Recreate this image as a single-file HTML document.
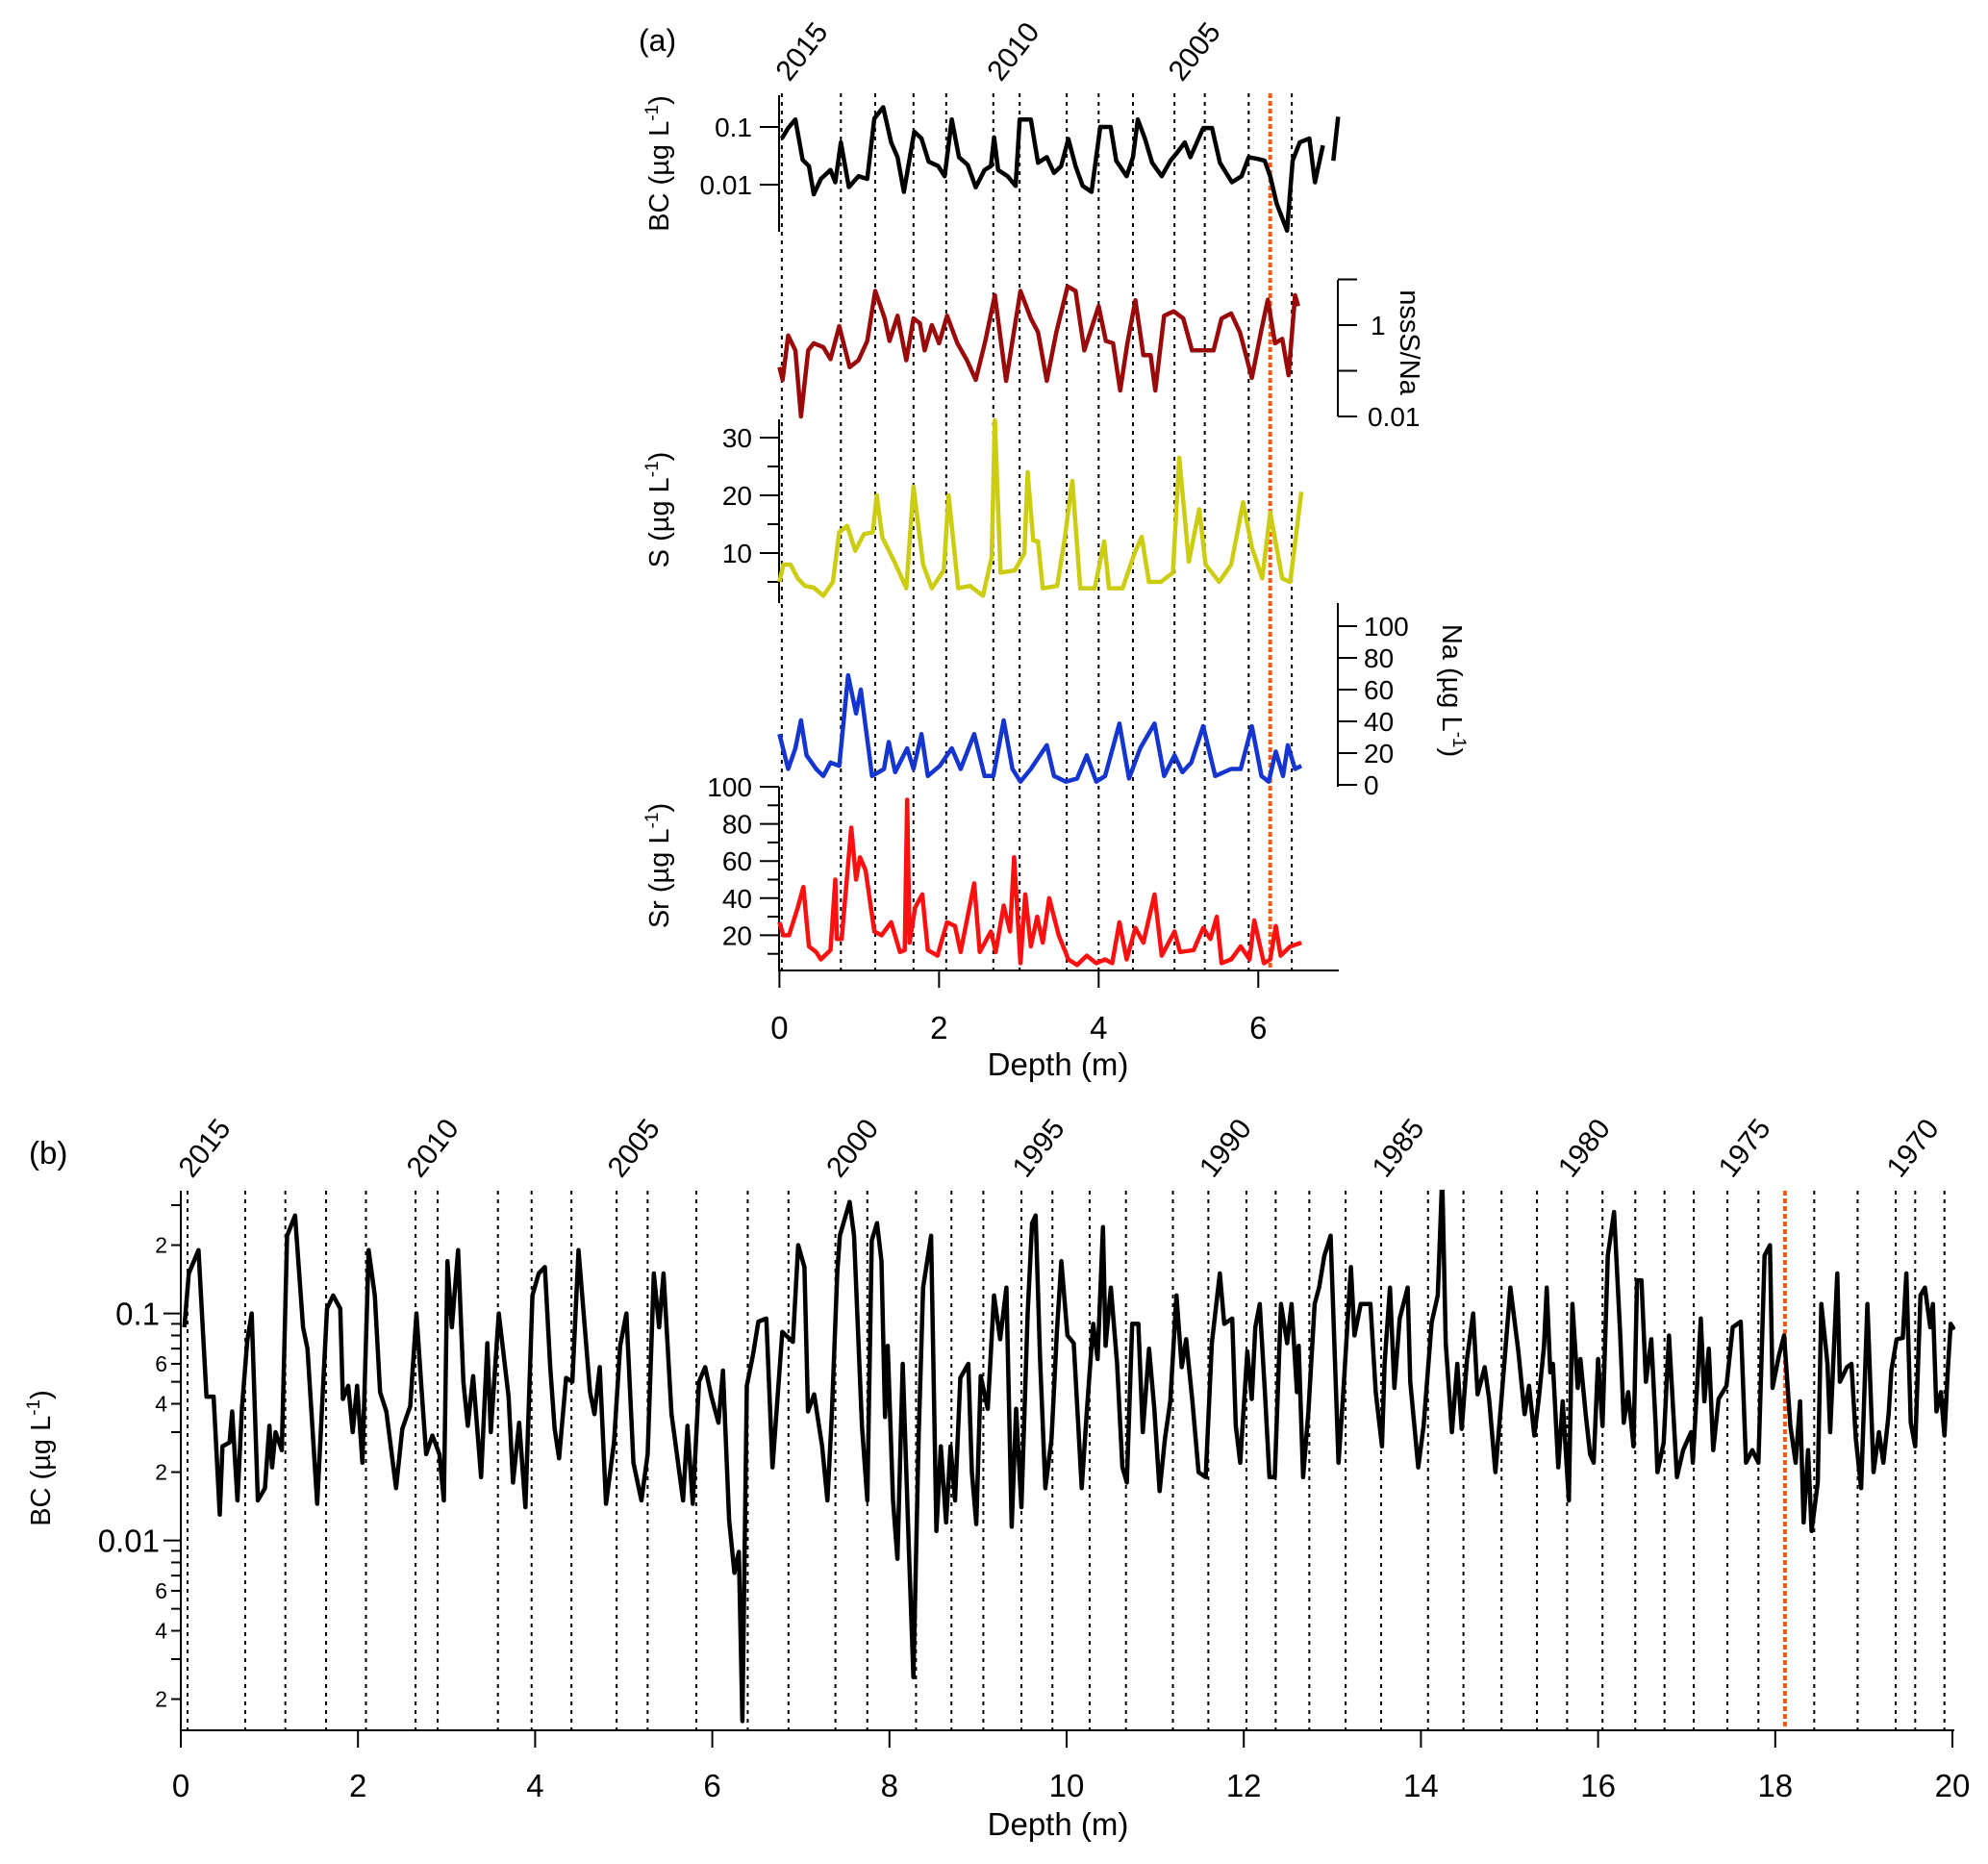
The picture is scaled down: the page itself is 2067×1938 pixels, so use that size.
<!DOCTYPE html>
<html><head><meta charset="utf-8"><style>
html,body{margin:0;padding:0;background:#fff;}
svg{display:block;font-family:"Liberation Sans",Arial,sans-serif;}
</style></head><body>
<svg id="fig" width="2067" height="1938" viewBox="0 0 2067 1938" xmlns="http://www.w3.org/2000/svg">
<defs><clipPath id="clipB"><rect x="188" y="1237" width="1845" height="564"/></clipPath></defs>
<g id="pa"></g>
<g id="pb"></g>
</svg>
<script>
// ---------- Panel (a) data ----------
const aLines=[0.03,0.77,1.20,1.68,2.09,2.68,3.01,3.60,4.00,4.43,4.95,5.33,5.88,6.42];
const aOrange=6.15;
const aYears=["2015","2010","2005"];
const aYearDepths=[0.03,2.68,4.95];
const aXTicks=[0,2,4,6];
const bcaD=[0.03,0.11,0.20,0.29,0.37,0.43,0.52,0.64,0.70,0.77,0.87,0.99,1.10,1.19,1.30,1.40,1.48,1.56,1.69,1.78,1.87,1.99,2.07,2.16,2.25,2.36,2.46,2.57,2.65,2.69,2.74,2.86,2.96,3.01,3.15,3.24,3.35,3.44,3.53,3.62,3.71,3.80,3.91,4.02,4.15,4.22,4.35,4.43,4.49,4.58,4.67,4.79,4.90,4.99,5.08,5.15,5.31,5.42,5.52,5.67,5.79,5.88,5.99,6.08,6.15,6.23,6.36,6.43,6.52,6.64,6.71,6.81,null,6.94,7.0];
const bcaV=[0.063,0.096,0.135,0.027,0.021,0.0068,0.0126,0.018,0.011,0.054,0.0091,0.014,0.0126,0.14,0.22,0.054,0.03,0.0075,0.083,0.063,0.025,0.021,0.014,0.135,0.03,0.022,0.009,0.018,0.021,0.066,0.018,0.014,0.0095,0.135,0.135,0.024,0.03,0.016,0.021,0.062,0.021,0.0095,0.0075,0.1,0.1,0.026,0.014,0.03,0.135,0.063,0.024,0.014,0.026,0.037,0.054,0.03,0.096,0.096,0.024,0.011,0.014,0.03,0.028,0.026,0.014,0.0047,0.0016,0.026,0.054,0.063,0.011,0.048,null,0.026,0.15];
const nssD=[0.0,0.04,0.11,0.20,0.27,0.36,0.43,0.55,0.64,0.75,0.88,0.99,1.10,1.20,1.32,1.38,1.48,1.59,1.68,1.76,1.82,1.91,2.00,2.10,2.23,2.35,2.46,2.58,2.70,2.84,2.92,3.02,3.15,3.24,3.35,3.47,3.61,3.71,3.82,4.00,4.09,4.18,4.27,4.36,4.46,4.56,4.65,4.71,4.82,4.94,5.06,5.17,5.31,5.44,5.54,5.66,5.77,5.92,6.04,6.12,6.21,6.30,6.38,6.46,6.50];
const nssV=[0.12,0.063,0.59,0.28,0.01,0.28,0.4,0.33,0.18,0.95,0.12,0.17,0.45,5.6,1.4,0.45,1.6,0.17,1.4,1.1,0.28,1.0,0.4,1.6,0.4,0.17,0.063,0.45,4.5,0.06,0.45,5.6,1.4,0.7,0.06,0.7,7,5.6,0.28,2.6,0.45,0.4,0.037,0.4,3.5,0.22,0.22,0.037,1.6,2.0,1.4,0.28,0.28,0.28,1.4,1.8,0.7,0.07,0.8,3.6,0.4,0.5,0.08,4.5,2.6];
const sD=[0.0,0.05,0.14,0.23,0.32,0.43,0.55,0.67,0.75,0.85,0.95,1.06,1.17,1.22,1.29,1.44,1.59,1.68,1.80,1.91,2.06,2.12,2.24,2.39,2.55,2.66,2.70,2.77,2.95,3.07,3.11,3.18,3.24,3.30,3.48,3.57,3.67,3.77,3.95,4.07,4.13,4.30,4.45,4.54,4.63,4.78,4.93,5.01,5.13,5.26,5.34,5.51,5.66,5.81,5.92,6.05,6.15,6.30,6.40,6.54];
const sV=[5,8,8,5.6,4.3,4,2.6,5,13.6,14.7,10.4,13.3,13.6,20,12.7,8.5,3.9,21.5,8,3.9,7,20,3.9,4.3,2.6,9.3,33,6.6,7,10,24,12.2,12,3.9,4.3,12,22.5,3.9,3.9,12,3.9,3.9,10,12.8,5,5,6.6,26.5,8.5,17.6,8,5,8,18.8,11,5.6,17,5.6,5,20.6];
const naD=[0.0,0.11,0.20,0.27,0.34,0.46,0.55,0.64,0.75,0.86,0.96,1.02,1.16,1.31,1.37,1.45,1.60,1.68,1.78,1.86,2.01,2.16,2.27,2.44,2.57,2.68,2.81,2.92,3.02,3.15,3.35,3.44,3.59,3.73,3.85,3.97,4.08,4.26,4.38,4.52,4.70,4.82,4.95,5.05,5.16,5.31,5.46,5.66,5.78,5.92,6.04,6.13,6.22,6.31,6.37,6.46,6.54];
const naV=[32,10,23,40.6,18.6,10,5.6,14,12,69,45,60,5.6,10,27,8,23,10,32,5.6,12,23,10,32,5.6,5.6,40.6,10,2,10,25,5.6,2,4,18.6,2,5.6,38.6,4,23,38.6,5.6,18.6,8,14,37,5.6,10,10,37,5.6,2,21,5.6,25,10,12];
const srD=[0.0,0.05,0.12,0.23,0.30,0.37,0.46,0.52,0.64,0.70,0.72,0.78,0.90,0.96,1.01,1.08,1.19,1.28,1.40,1.51,1.57,1.60,1.63,1.70,1.79,1.86,1.98,2.10,2.20,2.27,2.44,2.51,2.65,2.71,2.81,2.89,2.94,3.02,3.08,3.15,3.23,3.30,3.38,3.50,3.62,3.73,3.85,3.97,4.08,4.17,4.26,4.35,4.46,4.56,4.70,4.79,4.95,5.02,5.19,5.31,5.40,5.48,5.54,5.66,5.78,5.89,5.95,6.07,6.15,6.22,6.28,6.40,6.54];
const srV=[27,20,20,35,46,14,11,7,12,50,18,18,78,50,62,55,22,20,27,11,12,93,16,35,42,12,9,27,25,11,48,11,22,11,36,22,62,5,42,14,30,16,40,20,7,4,9,5,7,5,27,7,24,16,42,9,22,11,12,24,18,30,5,7,14,7,28,5,7,25,9,14,16];

// ---------- Panel (b) data ----------
const bLines=[0.076,0.727,1.18,1.64,2.09,2.65,2.90,3.58,3.96,4.41,4.92,5.27,5.82,6.40,6.86,7.39,7.75,8.30,8.70,9.06,9.49,9.84,10.26,10.67,11.20,11.60,12.03,12.36,12.74,13.15,13.55,14.08,14.48,14.91,15.31,15.65,16.05,16.42,16.75,17.08,17.46,17.81,18.44,18.93,19.36,19.58,19.91];
const bOrange=18.11;
const bYears=["2015","2010","2005","2000","1995","1990","1985","1980","1975","1970"];
const bYearDepths=[0.076,2.65,4.92,7.39,9.49,11.60,13.55,15.65,17.46,19.36];
const bXTicks=[0,2,4,6,8,10,12,14,16,18,20];
const bYTickVals=[0.2,0.1,0.06,0.04,0.02,0.01,0.006,0.004,0.002];
const bYTickLabels=["2","0.1","6","4","2","0.01","6","4","2"];
const bcbD=[0.04,0.09,0.20,0.29,0.37,0.44,0.47,0.55,0.58,0.64,0.69,0.75,0.80,0.87,0.95,1.00,1.03,1.07,1.14,1.20,1.29,1.38,1.43,1.54,1.65,1.72,1.80,1.83,1.89,1.94,1.99,2.05,2.12,2.19,2.25,2.32,2.43,2.50,2.59,2.66,2.72,2.77,2.84,2.92,2.97,3.01,3.06,3.13,3.19,3.24,3.30,3.39,3.46,3.50,3.59,3.70,3.75,3.82,3.89,3.97,4.04,4.11,4.17,4.22,4.27,4.35,4.42,4.49,4.62,4.67,4.73,4.80,4.89,4.96,5.03,5.11,5.20,5.27,5.34,5.40,5.45,5.54,5.60,5.67,5.72,5.78,5.85,5.92,5.99,6.07,6.12,6.19,6.25,6.30,6.34,6.39,6.46,6.52,6.61,6.68,6.79,6.91,6.97,7.04,7.08,7.15,7.24,7.30,7.35,7.41,7.44,7.55,7.60,7.69,7.75,7.80,7.86,7.91,7.95,7.98,8.04,8.09,8.15,8.22,8.27,8.33,8.38,8.47,8.53,8.58,8.64,8.69,8.74,8.80,8.89,8.93,8.98,9.03,9.11,9.18,9.25,9.32,9.38,9.43,9.49,9.56,9.61,9.65,9.70,9.76,9.83,9.89,9.94,10.01,10.08,10.17,10.23,10.30,10.35,10.41,10.44,10.50,10.57,10.63,10.68,10.74,10.81,10.86,10.93,10.99,11.05,11.11,11.17,11.24,11.30,11.35,11.42,11.49,11.57,11.64,11.73,11.78,11.87,11.91,11.96,12.04,12.09,12.13,12.18,12.24,12.29,12.35,12.42,12.49,12.54,12.60,12.62,12.67,12.73,12.80,12.85,12.91,12.98,13.07,13.12,13.21,13.25,13.32,13.43,13.49,13.56,13.59,13.65,13.70,13.76,13.85,13.88,13.97,14.03,14.12,14.19,14.24,14.28,14.35,14.41,14.46,14.52,14.59,14.64,14.72,14.77,14.84,14.90,15.01,15.10,15.17,15.22,15.28,15.33,15.39,15.42,15.46,15.49,15.55,15.60,15.67,15.71,15.77,15.80,15.86,15.91,15.95,16.00,16.05,16.11,16.18,16.25,16.29,16.34,16.40,16.44,16.49,16.54,16.60,16.65,16.67,16.74,16.80,16.89,16.96,17.05,17.07,17.16,17.20,17.25,17.30,17.36,17.45,17.52,17.61,17.67,17.74,17.81,17.88,17.94,17.97,18.04,18.10,18.17,18.23,18.28,18.32,18.37,18.41,18.48,18.52,18.59,18.62,18.70,18.73,18.81,18.86,18.91,18.97,19.04,19.11,19.17,19.22,19.28,19.31,19.37,19.44,19.48,19.53,19.58,19.64,19.69,19.75,19.78,19.82,19.87,19.91,19.95,19.98,20.02];
const bcbV=[0.087,0.15,0.19,0.043,0.043,0.013,0.026,0.027,0.037,0.015,0.038,0.076,0.10,0.015,0.017,0.032,0.021,0.03,0.025,0.22,0.27,0.087,0.07,0.0145,0.105,0.12,0.105,0.042,0.048,0.03,0.048,0.022,0.19,0.12,0.045,0.037,0.017,0.031,0.039,0.10,0.045,0.024,0.029,0.024,0.015,0.17,0.087,0.19,0.05,0.032,0.053,0.019,0.074,0.03,0.10,0.043,0.018,0.033,0.014,0.12,0.15,0.16,0.058,0.031,0.023,0.052,0.05,0.19,0.045,0.036,0.058,0.0145,0.027,0.072,0.10,0.022,0.015,0.024,0.15,0.087,0.15,0.036,0.024,0.015,0.032,0.0145,0.05,0.058,0.043,0.033,0.056,0.0123,0.0072,0.0089,0.0016,0.048,0.066,0.092,0.095,0.021,0.083,0.075,0.2,0.16,0.037,0.044,0.026,0.015,0.036,0.15,0.22,0.31,0.22,0.032,0.015,0.21,0.25,0.17,0.035,0.072,0.015,0.0083,0.06,0.0089,0.0025,0.029,0.13,0.22,0.011,0.026,0.012,0.026,0.015,0.052,0.06,0.02,0.0118,0.053,0.038,0.12,0.077,0.13,0.0115,0.038,0.014,0.10,0.25,0.27,0.063,0.017,0.028,0.083,0.17,0.08,0.074,0.017,0.038,0.09,0.063,0.24,0.072,0.13,0.06,0.021,0.018,0.09,0.09,0.03,0.07,0.038,0.0165,0.028,0.041,0.12,0.058,0.077,0.041,0.02,0.019,0.074,0.15,0.09,0.095,0.032,0.022,0.068,0.042,0.087,0.11,0.044,0.019,0.019,0.11,0.074,0.11,0.045,0.072,0.019,0.037,0.11,0.13,0.18,0.22,0.022,0.043,0.16,0.08,0.11,0.11,0.045,0.026,0.06,0.13,0.047,0.095,0.13,0.05,0.021,0.032,0.091,0.12,0.40,0.074,0.03,0.06,0.031,0.063,0.10,0.044,0.058,0.042,0.02,0.038,0.13,0.068,0.036,0.048,0.029,0.042,0.072,0.13,0.055,0.06,0.021,0.041,0.015,0.11,0.047,0.063,0.036,0.024,0.022,0.063,0.032,0.18,0.28,0.081,0.033,0.045,0.026,0.14,0.14,0.05,0.077,0.032,0.02,0.027,0.08,0.019,0.025,0.03,0.022,0.095,0.041,0.07,0.025,0.042,0.048,0.087,0.092,0.022,0.025,0.022,0.18,0.2,0.047,0.065,0.08,0.032,0.022,0.041,0.012,0.025,0.011,0.018,0.11,0.06,0.03,0.15,0.05,0.058,0.06,0.028,0.017,0.11,0.02,0.03,0.022,0.036,0.056,0.077,0.078,0.15,0.033,0.026,0.12,0.13,0.087,0.11,0.037,0.045,0.029,0.058,0.09,0.085];

const NS="http://www.w3.org/2000/svg";
function el(parent,tag,attrs,text){const e=document.createElementNS(NS,tag);for(const k in attrs)e.setAttribute(k,attrs[k]);if(text!==undefined)e.textContent=text;parent.appendChild(e);return e;}
function pathFrom(D,V,xf,yf){let d="",pen=false;for(let i=0;i<D.length;i++){if(D[i]===null||V[i]===null){pen=false;continue;}d+=(pen?"L":"M")+xf(D[i]).toFixed(1)+","+yf(V[i]).toFixed(1);pen=true;}return d;}
const L10=Math.log10;

// ===== Panel a =====
const pa=document.getElementById('pa');
const ax=d=>810.4+d*82.98;
const yBCa=v=>132+60*(-1-L10(v));
const yNss=v=>338-47.5*L10(v);
const yS=v=>635-6*v;
const yNa=v=>816-1.65*v;
const ySr=v=>1011-1.93*v;

let t=el(pa,'text',{x:664,y:53,'font-size':32});
t.textContent='(a)';
for(let i=0;i<aLines.length;i++){
  const l=el(pa,'line',{x1:ax(aLines[i]),x2:ax(aLines[i]),y1:97,y2:1009,stroke:'#000','stroke-width':2,'stroke-dasharray':'4,5'});
  
  
}
let ol=el(pa,'line',{x1:ax(aOrange),x2:ax(aOrange),y1:97,y2:1009,stroke:'#ff5a14','stroke-width':4,'stroke-dasharray':'5,3'});


for(let i=0;i<aYears.length;i++){
  const x=ax(aYearDepths[i])+8, y=86;
  const tx=el(pa,'text',{x:x,y:y,'font-size':30,transform:`rotate(-52 ${x} ${y})`},aYears[i]);
  
  
}
// BC axis
el(pa,'line',{x1:810,x2:810,y1:99,y2:241,stroke:'#000','stroke-width':2});
[[0.1,'0.1'],[0.01,'0.01']].forEach(([v,s])=>{el(pa,'line',{x1:790,x2:810,y1:yBCa(v),y2:yBCa(v),stroke:'#000','stroke-width':2});const k=el(pa,'text',{x:782,y:yBCa(v)+10,'font-size':28,'text-anchor':'end'},s);});
let yl=el(pa,'text',{x:0,y:0,'font-size':29,'text-anchor':'middle',transform:'translate(695,170) rotate(-90)'});

yl.innerHTML='BC (µg L<tspan dy="-11" font-size="19">-1</tspan><tspan dy="11">)</tspan>';
// nssS/Na axis
el(pa,'line',{x1:1391,x2:1391,y1:291,y2:433,stroke:'#000','stroke-width':2});
[10,1,0.1,0.01].forEach(v=>el(pa,'line',{x1:1391,x2:1411,y1:yNss(v),y2:yNss(v),stroke:'#000','stroke-width':2}));
[[1,'1'],[0.01,'0.01']].forEach(([v,s])=>{const k=el(pa,'text',{x:s==='1'?1425:1422,y:yNss(v)+10,'font-size':28},s);});
yl=el(pa,'text',{x:0,y:0,'font-size':29,'text-anchor':'middle',transform:'translate(1456,356) rotate(90)'},'nssS/Na');

// S axis
el(pa,'line',{x1:810,x2:810,y1:436,y2:627,stroke:'#000','stroke-width':2});
[5,10,15,20,25,30].forEach(v=>el(pa,'line',{x1:v%10===0?790:798,x2:810,y1:yS(v),y2:yS(v),stroke:'#000','stroke-width':2}));
[10,20,30].forEach(v=>{const k=el(pa,'text',{x:782,y:yS(v)+10,'font-size':28,'text-anchor':'end'},String(v));});
yl=el(pa,'text',{x:0,y:0,'font-size':29,'text-anchor':'middle',transform:'translate(695,530) rotate(-90)'});

yl.innerHTML='S (µg L<tspan dy="-11" font-size="19">-1</tspan><tspan dy="11">)</tspan>';
// Na axis
el(pa,'line',{x1:1391,x2:1391,y1:627,y2:818,stroke:'#000','stroke-width':2});
[0,20,40,60,80,100].forEach(v=>{el(pa,'line',{x1:1391,x2:1411,y1:yNa(v),y2:yNa(v),stroke:'#000','stroke-width':2});const k=el(pa,'text',{x:1418,y:yNa(v)+10,'font-size':28},String(v));});
yl=el(pa,'text',{x:0,y:0,'font-size':29,'text-anchor':'middle',transform:'translate(1500,718) rotate(90)'});

yl.innerHTML='Na (µg L<tspan dy="-11" font-size="19">-1</tspan><tspan dy="11">)</tspan>';
// Sr axis
el(pa,'line',{x1:810,x2:810,y1:818,y2:1009,stroke:'#000','stroke-width':2});
[10,20,30,40,50,60,70,80,90,100].forEach(v=>el(pa,'line',{x1:v%20===0?790:798,x2:810,y1:ySr(v),y2:ySr(v),stroke:'#000','stroke-width':2}));
[20,40,60,80,100].forEach(v=>{const k=el(pa,'text',{x:782,y:ySr(v)+10,'font-size':28,'text-anchor':'end'},String(v));});
yl=el(pa,'text',{x:0,y:0,'font-size':29,'text-anchor':'middle',transform:'translate(695,900) rotate(-90)'});

yl.innerHTML='Sr (µg L<tspan dy="-11" font-size="19">-1</tspan><tspan dy="11">)</tspan>';
// x axis a
el(pa,'line',{x1:809,x2:1392,y1:1009,y2:1009,stroke:'#000','stroke-width':2});
aXTicks.forEach(v=>{el(pa,'line',{x1:ax(v),x2:ax(v),y1:1009,y2:1027,stroke:'#000','stroke-width':2});const k=el(pa,'text',{x:ax(v),y:1080,'font-size':33,'text-anchor':'middle'},String(v));});
yl=el(pa,'text',{x:1100,y:1118,'font-size':33,'text-anchor':'middle'},'Depth (m)');

// series a
const seriesA=[[bcaD,bcaV,yBCa,'#000','bc-series-a'],[nssD,nssV,yNss,'#9b0a0a','nss-na-series'],[sD,sV,yS,'#cccc10','s-series'],[naD,naV,yNa,'#1535d0','na-series'],[srD,srV,ySr,'#ff1010','sr-series']];
seriesA.forEach(([D,V,yf,c,n])=>{
  const p=el(pa,'path',{d:pathFrom(D,V,ax,yf),fill:'none',stroke:c,'stroke-width':4.5,'stroke-linejoin':'round'});
  
  
});

// ===== Panel b =====
const pb=document.getElementById('pb');
const bx=d=>188+d*92.1;
const by=v=>1365.6+236*(-1-L10(v));
t=el(pb,'text',{x:30,y:1210,'font-size':33},'(b)');

for(let i=0;i<bLines.length;i++){
  const l=el(pb,'line',{x1:bx(bLines[i]),x2:bx(bLines[i]),y1:1238,y2:1799,stroke:'#000','stroke-width':2,'stroke-dasharray':'4,5'});
  
  
}
ol=el(pb,'line',{x1:bx(bOrange),x2:bx(bOrange),y1:1238,y2:1799,stroke:'#ff5a14','stroke-width':4,'stroke-dasharray':'5,3'});


for(let i=0;i<bYears.length;i++){
  const x=bx(bYearDepths[i])+5, y=1226;
  const tx=el(pb,'text',{x:x,y:y,'font-size':30,transform:`rotate(-52 ${x} ${y})`},bYears[i]);
  
  
}
el(pb,'line',{x1:188,x2:188,y1:1238,y2:1800,stroke:'#000','stroke-width':2});
for(let dec=-3;dec<=-1;dec++){for(let m=1;m<=9;m++){const v=m*Math.pow(10,dec);const y=by(v);if(y<1238||y>1800)continue;el(pb,'line',{x1:m===1?170:178,x2:188,y1:y,y2:y,stroke:'#000','stroke-width':2});}}
for(let i=0;i<bYTickVals.length;i++){
  const big=bYTickLabels[i].length>1;
  const k=el(pb,'text',{x:big?166:174,y:by(bYTickVals[i])+(big?12:8),'font-size':big?33:23,'text-anchor':'end'},bYTickLabels[i]);
  
  
}
yl=el(pb,'text',{x:0,y:0,'font-size':29,'text-anchor':'middle',transform:'translate(52,1516) rotate(-90)'});

yl.innerHTML='BC (µg L<tspan dy="-11" font-size="19">-1</tspan><tspan dy="11">)</tspan>';
el(pb,'line',{x1:187,x2:2032,y1:1799,y2:1799,stroke:'#000','stroke-width':2});
bXTicks.forEach(v=>{el(pb,'line',{x1:bx(v),x2:bx(v),y1:1799,y2:1817,stroke:'#000','stroke-width':2});const k=el(pb,'text',{x:bx(v),y:1868,'font-size':33,'text-anchor':'middle'},String(v));});
yl=el(pb,'text',{x:1100,y:1908,'font-size':33,'text-anchor':'middle'},'Depth (m)');

const pbPath=el(pb,'path',{d:pathFrom(bcbD,bcbV,bx,by),fill:'none',stroke:'#000','stroke-width':4.5,'stroke-linejoin':'round','clip-path':'url(#clipB)'});


</script>
</body></html>
